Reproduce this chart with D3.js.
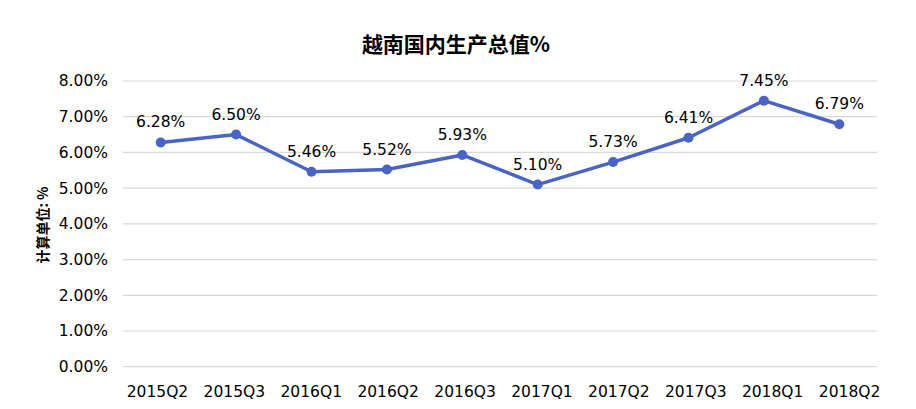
<!DOCTYPE html>
<html><head><meta charset="utf-8">
<script src="https://cdn.jsdelivr.net/npm/d3@7"></script>
<style>body{margin:0;background:#fff}svg{display:block}</style>
</head><body>
<svg id="c" width="916" height="409"></svg>
<script>
const categories = ["2015Q2","2015Q3","2016Q1","2016Q2","2016Q3","2017Q1","2017Q2","2017Q3","2018Q1","2018Q2"];
const values = [6.28, 6.50, 5.46, 5.52, 5.93, 5.10, 5.73, 6.41, 7.45, 6.79];
const yTicks = [0,1,2,3,4,5,6,7,8];
const title = "越南国内生产总值%";
const yTitle = "计算单位: %";

const svg = d3.select("#c");
const font = "'DejaVu Sans', Verdana, sans-serif";
const cjk = "'Noto Sans CJK SC', sans-serif";
const x = d3.scalePoint().domain(categories).range([123, 877]).padding(0.5);
const xLab = d3.scalePoint().domain(categories).range([118.5, 887.5]).padding(0.5);
const y = d3.scaleLinear().domain([0, 8]).range([366.7, 81]);
const color = "#4a63c6";

// gridlines
svg.append("g").selectAll("line").data(yTicks).join("line")
  .attr("x1", 123).attr("x2", 877)
  .attr("y1", d => y(d)).attr("y2", d => y(d))
  .attr("stroke", "#d9d9d9").attr("stroke-width", 1.2);

// y axis
const ya = svg.append("g").attr("transform", "translate(112,0)")
  .call(d3.axisLeft(y).tickValues(yTicks).tickSize(0).tickPadding(4).tickFormat(d => d.toFixed(2) + "%"));
ya.select(".domain").remove();
ya.selectAll("text").attr("font-family", font).attr("font-size", 15.5).attr("fill", "#000");

// x axis
const xa = svg.append("g").attr("transform", "translate(0,380)")
  .call(d3.axisBottom(xLab).tickSize(0).tickPadding(6));
xa.select(".domain").remove();
xa.selectAll("text").attr("font-family", font).attr("font-size", 15.5).attr("fill", "#000");

// line
svg.append("path").datum(values)
  .attr("fill", "none").attr("stroke", color).attr("stroke-width", 3.5).attr("stroke-linejoin", "round")
  .attr("d", d3.line().x((d, i) => x(categories[i])).y(d => y(d)));

svg.append("g").selectAll("circle").data(values).join("circle")
  .attr("cx", (d, i) => x(categories[i])).attr("cy", d => y(d)).attr("r", 5).attr("fill", color);

svg.append("g").selectAll("text").data(values).join("text")
  .attr("x", (d, i) => x(categories[i])).attr("y", d => y(d) - 15)
  .attr("text-anchor", "middle").attr("font-family", font).attr("font-size", 15.5).attr("fill", "#000")
  .text(d => d.toFixed(2) + "%");

// title
svg.append("text").attr("x", 456).attr("y", 52).attr("text-anchor", "middle")
  .attr("font-family", cjk).attr("font-weight", "bold").attr("font-size", 21).attr("fill", "#000")
  .text(title);

// y title
svg.append("text").attr("transform", "translate(48,225) rotate(-90)").attr("text-anchor", "middle")
  .attr("font-family", cjk).attr("font-weight", "bold").attr("font-size", 14).attr("fill", "#000")
  .text(yTitle);
</script>
</body></html>
